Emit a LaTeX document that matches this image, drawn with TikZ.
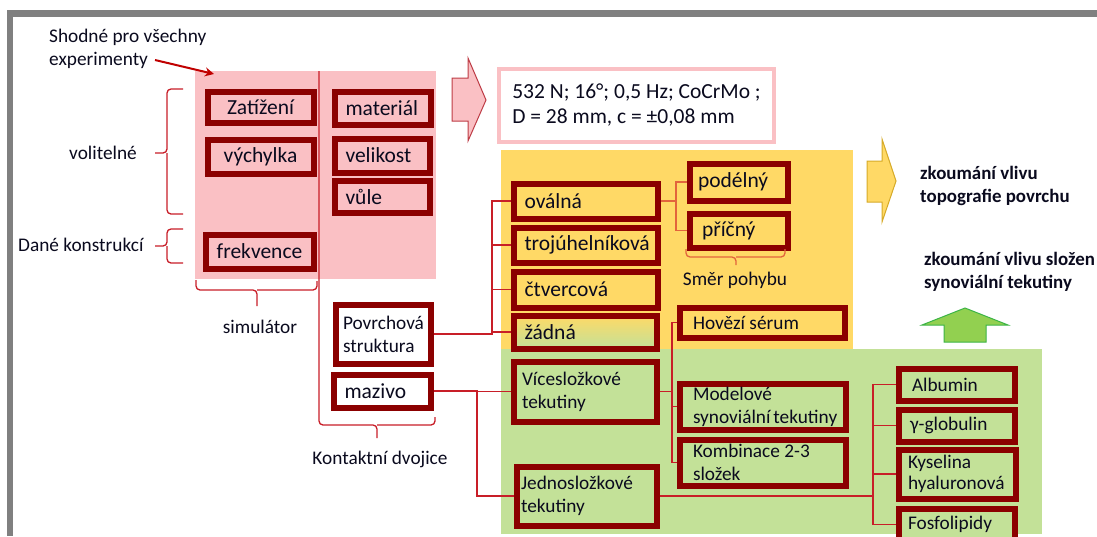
\documentclass[tikz,border=0pt]{standalone}
\usepackage{fontspec}
\setmainfont{Carlito}
\usetikzlibrary{arrows.meta}

\definecolor{boxred}{RGB}{139,0,0}
\definecolor{linered}{RGB}{200,30,40}
\definecolor{lineorange}{RGB}{226,100,60}
\definecolor{arrowred}{RGB}{192,0,0}
\definecolor{pinkfill}{RGB}{250,192,196}
\definecolor{pinkedge}{RGB}{190,60,70}
\definecolor{yellowfill}{RGB}{255,217,102}
\definecolor{yellowedge}{RGB}{214,170,40}
\definecolor{greenfill}{RGB}{195,225,152}
\definecolor{greenarrow}{RGB}{146,208,80}
\definecolor{greenedge}{RGB}{60,180,70}
\definecolor{framegray}{RGB}{128,128,128}
\definecolor{textdark}{RGB}{10,10,30}

\newcommand{\bigtext}{\fontsize{21.5}{25}\selectfont}
\newcommand{\smalltext}{\fontsize{19.3}{23}\selectfont}
\newcommand{\boldtext}{\fontsize{18.9}{23}\selectfont\bfseries}

\tikzset{
  kbox/.style={draw=boxred, line width=6pt, anchor=north west, inner ysep=0pt,
    inner xsep=11pt, align=flush left, text=textdark, font=\smalltext},
  lab/.style={inner sep=0pt, text=textdark, font=\smalltext},
  conn/.style={draw=linered, line width=1.8pt},
  brc/.style={draw=linered, line width=1.3pt, rounded corners=4pt},
}

\begin{document}
\begin{tikzpicture}[x=1pt,y=-1pt]
	\clip (0,0) rectangle (1097,536);
	% frame and coloured areas
	\fill[white] (0,0) rectangle (1097,536);
	\fill[framegray] (7,10) rectangle (1097,17);
	\fill[framegray] (7,10) rectangle (13,536);
	\fill[pinkfill] (195,71) rectangle (436,279);
	\fill[yellowfill] (501,150) rectangle (853,349);
	\fill[greenfill] (501,349) rectangle (1042,534);

	% block arrows
	\draw[fill=pinkfill, draw=pinkedge, line width=1pt] (452,78) -- (468,78) -- (468,58) -- (486,100) -- (468,141) -- (468,121) -- (452,121) -- cycle;
	\draw[fill=yellowfill, draw=yellowedge, line width=1pt] (867,161) -- (882,161) -- (882,139) -- (896,181) -- (882,222) -- (882,202) -- (867,202) -- cycle;
	\draw[fill=greenarrow, draw=greenedge, line width=1pt] (944,342) -- (944,325) -- (922,325) -- (965,308) -- (1008,325) -- (986,325) -- (986,342) -- cycle;

	% simulator
	\node[kbox, font=\bigtext, fill=pinkfill, align=center, inner xsep=5pt, text width=96pt, minimum height=31pt] (zat) at (204.5,88.5) {Zatížení};
	\node[kbox, font=\bigtext, fill=pinkfill, align=center, inner xsep=5pt, text width=96pt, minimum height=34pt] (vych) at (204.5,136.5) {výchylka};
	\node[kbox, font=\bigtext, fill=pinkfill, align=center, inner xsep=5pt, text width=98pt, minimum height=34pt] (frek) at (202.5,231.5) {frekvence};
	\node[kbox, font=\bigtext, fill=pinkfill, text width=74pt, minimum height=33pt] (mat) at (331.5,88.5) {materiál};
	\node[kbox, font=\bigtext, fill=pinkfill, text width=73pt, minimum height=34pt] (vel) at (331.5,135.5) {velikost};
	\node[kbox, font=\bigtext, fill=pinkfill, text width=73pt, minimum height=32pt] (vule) at (331.5,177.5) {vůle};

	% contact pair
	\node[kbox, fill=white, inner xsep=7.5pt, text width=80pt, minimum height=59pt] (pov) at (332.5,301.5) {Povrchová\\struktura};
	\node[kbox, font=\bigtext, fill=white, text width=75pt, minimum height=33pt] (maz) at (330.5,371.5) {mazivo};

	% parameters
	\node[draw=pinkfill, line width=4pt, fill=white, anchor=north west, inner sep=0pt, minimum width=275pt, minimum height=73pt, align=flush left, text=textdark, font=\bigtext] (params) at (497,67) {532 N; 16°; 0,5 Hz; CoCrMo ;\\D = 28 mm, c = ±0,08 mm};

	% surface topography
	\node[kbox, font=\bigtext, fill=yellowfill, text width=122pt, minimum height=35pt] (ova) at (510.5,180.5) {oválná};
	\node[kbox, font=\bigtext, fill=yellowfill, text width=122pt, minimum height=35pt] (troj) at (510.5,224.5) {trojúhelníková};
	\node[kbox, font=\bigtext, fill=yellowfill, text width=122pt, minimum height=36pt] (ctv) at (510.5,268.5) {čtvercová};
	\node[kbox, font=\bigtext, top color=yellowfill, bottom color=greenfill, text width=121pt, minimum height=33pt] (zad) at (510.5,312.5) {žádná};
	\node[kbox, font=\bigtext, fill=yellowfill, inner xsep=8.5pt, text width=81pt, minimum height=37pt] (pod) at (686.5,160.5) {podélný};
	\node[kbox, font=\bigtext, fill=yellowfill, inner xsep=12.5pt, text width=73pt, minimum height=34pt] (pric) at (686.5,210.5) {příčný};

	% lubricants
	\node[kbox, fill=yellowfill, inner xsep=13.5pt, text width=138pt, minimum height=30pt] (hov) at (676.5,304.5) {Hovězí sérum};
	\node[kbox, fill=greenfill, inner xsep=8.5pt, text width=126pt, minimum height=60pt] (vice) at (510.5,358.5) {Vícesložkové\\tekutiny};
	\node[kbox, fill=greenfill, inner xsep=13.5pt, text width=139pt, minimum height=46pt] (mod) at (676.5,380.5) {Modelové\\synoviální~tekutiny};
	\node[kbox, fill=greenfill, inner xsep=13.5pt, text width=139pt, minimum height=46pt] (komb) at (676.5,436.5) {Kombinace 2-3\\složek};
	\node[kbox, fill=greenfill, inner xsep=4.5pt, text width=131pt, minimum height=59pt] (jedno) at (513.5,463.5) {Jednosložkové\\tekutiny};
	\node[kbox, fill=greenfill, inner xsep=13.5pt, text width=89pt, minimum height=32pt] (alb) at (895.5,365.5) {Albumin};
	\node[kbox, fill=greenfill, inner xsep=11.5pt, text width=93pt, minimum height=32pt] (gam) at (895.5,406.5) {γ-globulin};
	\node[kbox, fill=greenfill, inner xsep=9.5pt, text width=98pt, minimum height=49pt, font=\fontsize{19.3}{21}\selectfont] (kys) at (895.5,446.5) {Kyselina\\hyaluronová};
	\node[kbox, fill=greenfill, inner xsep=9.5pt, text width=97pt, minimum height=32pt] (fos) at (895.5,505.5) {Fosfolipidy};

	% labels
	\node[lab, anchor=west, align=flush left] (shod) at (49,49) {Shodné pro všechny\\experimenty};
	\node[lab, anchor=west] (vol) at (69,153) {volitelné};
	\node[lab, anchor=west] (dane) at (18,245) {Dané konstrukcí};
	\node[lab] (simlab) at (260,327) {simulátor};
	\node[lab] (kontlab) at (380,459) {Kontaktní dvojice};
	\node[lab] (smer) at (735,280) {Směr pohybu};
	\node[lab, anchor=west, align=flush left, font=\boldtext] (topo) at (920,185.5) {zkoumání vlivu\\topografie povrchu};
	\node[lab, anchor=west, align=flush left, font=\boldtext] (sloz) at (924,272) {zkoumání vlivu složen\\synoviální tekutiny};

	% arrow to the simulator
	\coordinate (shodend) at (155,60);
	\coordinate (simcorner) at (214,74);
	\draw[draw=arrowred, line width=2pt, -{Stealth[length=9pt,width=9pt]}] (shodend) -- (simcorner);

	% braces
	\draw[brc] (183,89) -| (167,153) -- (155,153);
	\draw[brc] (183,214) -| (167,153);
	\draw[brc] (183,229) -| (167,246) -- (155,246);
	\draw[brc] (183,263) -| (167,246);
	\draw[brc] (196,280) |- (257,290) -- (257,306);
	\draw[brc] (317,281) |- (257,290);
	\draw[brc] (319,71) |- (377,425) -- (377,438);
	\draw[brc] (435,417) |- (377,425);
	\draw[brc, draw=lineorange] (686,249) |- (736,257) -- (736,265);
	\draw[brc, draw=lineorange] (785,249) |- (736,257);

	% connectors
	\draw[conn] (pov.east) -- ++(58.5,0) coordinate (povj) |- (ova.west);
	\draw[conn] (povj) |- (troj.west);
	\draw[conn] (povj) |- (ctv.west);
	\draw[conn] (povj) |- (zad.west);
	\draw[conn] (maz.east) -- ++(43.5,0) coordinate (mazj) |- (vice.west);
	\draw[conn] (mazj) |- (jedno.west);
	\draw[conn, draw=lineorange] (ova.east) -- ++(15.5,0) coordinate (ovaj) |- (pod.west);
	\draw[conn, draw=lineorange] (ovaj) |- (pric.west);
	\draw[conn] (vice.east) -- ++(12.5,0) coordinate (vicej) |- (hov.west);
	\draw[conn] (vicej) |- (mod.west);
	\draw[conn] (vicej) |- (komb.west);
	\draw[conn] (jedno.east) -- ++(213.5,0) coordinate (jednoj) |- (alb.west);
	\draw[conn] (jednoj) |- (gam.west);
	\draw[conn] (jednoj) |- (kys.west);
	\draw[conn] (jednoj) |- (fos.west);
\end{tikzpicture}
\end{document}
